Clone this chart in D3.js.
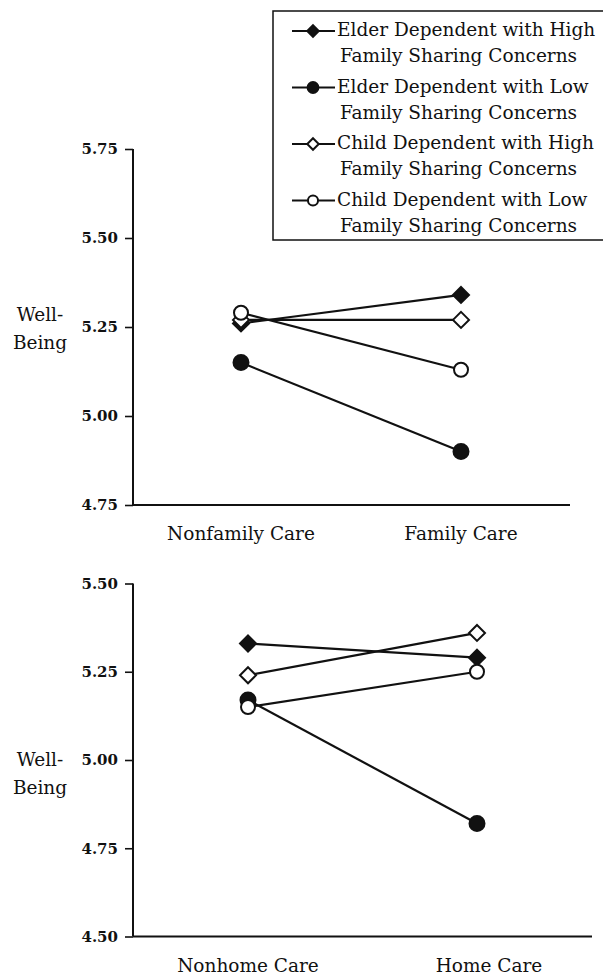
<!DOCTYPE html>
<html>
<head>
<meta charset="utf-8">
<script src="https://cdn.jsdelivr.net/npm/d3@7"></script>
<style>
  html, body { margin: 0; padding: 0; background: #fff; }
  svg { display: block; }
  text { font-family: "DejaVu Serif", "Liberation Serif", serif; fill: #111; }
</style>
</head>
<body>
<svg id="chart" width="603" height="978"></svg>
<script>
// Series labels (legend) and marker kinds
const seriesNames = [
  ["Elder Dependent with High", "Family Sharing Concerns"],
  ["Elder Dependent with Low", "Family Sharing Concerns"],
  ["Child Dependent with High", "Family Sharing Concerns"],
  ["Child Dependent with Low", "Family Sharing Concerns"]
];
const seriesMarkers = ["diamondFilled", "circleFilled", "diamondOpen", "circleOpen"];

// Panel 1: family vs nonfamily care
const careCategoriesA = ["Nonfamily Care", "Family Care"];
const elderHighA = [5.26, 5.34];
const elderLowA  = [5.15, 4.90];
const childHighA = [5.27, 5.27];
const childLowA  = [5.29, 5.13];
const ticksA = [4.75, 5.00, 5.25, 5.50, 5.75];

// Panel 2: home vs nonhome care
const careCategoriesB = ["Nonhome Care", "Home Care"];
const elderHighB = [5.33, 5.29];
const elderLowB  = [5.17, 4.82];
const childHighB = [5.24, 5.36];
const childLowB  = [5.15, 5.25];
const ticksB = [4.50, 4.75, 5.00, 5.25, 5.50];

const svg = d3.select("#chart");
const labelFont = "18.5px";

function drawMarker(g, kind, x, y, k = 1) {
  if (kind.startsWith("diamond")) {
    const s = 8 * k;
    g.append("path")
      .attr("d", `M${x},${y - s}L${x + s},${y}L${x},${y + s}L${x - s},${y}Z`)
      .attr("fill", kind === "diamondFilled" ? "#111" : "#fff")
      .attr("stroke", "#111").attr("stroke-width", 2);
  } else {
    g.append("circle")
      .attr("cx", x).attr("cy", y).attr("r", (kind === "circleFilled" ? 7.5 : 7) * k)
      .attr("fill", kind === "circleFilled" ? "#111" : "#fff")
      .attr("stroke", "#111").attr("stroke-width", 2);
  }
}

function drawPanel(cfg) {
  const g = svg.append("g");
  const y = d3.scaleLinear().domain(cfg.domain).range([cfg.bottom, cfg.top]);
  const x = d3.scaleOrdinal().domain(cfg.categories).range(cfg.xs);

  // y axis
  const yAxis = d3.axisLeft(y).tickValues(cfg.ticks)
    .tickFormat(d3.format(".2f")).tickSize(8).tickSizeOuter(0).tickPadding(7);
  const ya = g.append("g").attr("transform", `translate(${cfg.left},0)`).call(yAxis);
  ya.select(".domain").attr("stroke", "#111").attr("stroke-width", 2)
    .attr("d", `M0,${cfg.top}V${cfg.bottom}`);
  ya.selectAll(".tick line").attr("stroke", "#111").attr("stroke-width", 1.6);
  ya.selectAll(".tick text")
    .style("font-family", "'DejaVu Serif', serif")
    .style("font-weight", "bold").style("font-size", "15px").attr("fill", "#111");

  // x baseline
  g.append("line")
    .attr("x1", cfg.left).attr("x2", cfg.right)
    .attr("y1", cfg.bottom).attr("y2", cfg.bottom)
    .attr("stroke", "#111").attr("stroke-width", 2);

  // category labels
  g.selectAll(".cat").data(cfg.categories).enter().append("text")
    .attr("x", (d, i) => x(d) + cfg.labelShift[i])
    .attr("y", cfg.bottom + 35)
    .attr("text-anchor", "middle")
    .style("font-size", labelFont)
    .text(d => d);

  // y title
  const t = g.append("text").attr("text-anchor", "middle").style("font-size", labelFont);
  t.append("tspan").attr("x", 40).attr("y", cfg.titleY).text("Well-");
  t.append("tspan").attr("x", 40).attr("y", cfg.titleY + 28).text("Being");

  // lines and markers
  const line = d3.line().x(d => x(d.c)).y(d => y(d.v));
  cfg.series.forEach(vals => {
    const pts = vals.map((v, j) => ({ c: cfg.categories[j], v }));
    g.append("path").datum(pts).attr("d", line)
      .attr("fill", "none").attr("stroke", "#111").attr("stroke-width", 2.2);
  });
  cfg.series.forEach((vals, i) => {
    vals.forEach((v, j) => drawMarker(g, seriesMarkers[i], x(cfg.categories[j]), y(v)));
  });
}

drawPanel({
  categories: careCategoriesA, domain: [4.75, 5.75], ticks: ticksA,
  series: [elderHighA, elderLowA, childHighA, childLowA],
  left: 133, right: 570, top: 149, bottom: 505, xs: [241, 461], labelShift: [0, 0],
  titleY: 321
});

drawPanel({
  categories: careCategoriesB, domain: [4.50, 5.50], ticks: ticksB,
  series: [elderHighB, elderLowB, childHighB, childLowB],
  left: 133, right: 592, top: 583.5, bottom: 936.5, xs: [248, 477], labelShift: [0, 12],
  titleY: 766
});

// Legend
const lg = svg.append("g");
lg.append("rect").attr("x", 273).attr("y", 11).attr("width", 340).attr("height", 229)
  .attr("fill", "#fff").attr("stroke", "#111").attr("stroke-width", 1.5);
seriesNames.forEach((lines, i) => {
  const cy = 31 + i * 56.5;
  lg.append("line").attr("x1", 292).attr("x2", 335).attr("y1", cy).attr("y2", cy)
    .attr("stroke", "#111").attr("stroke-width", 2);
  drawMarker(lg, seriesMarkers[i], 313, cy, 0.72);
  const tx = lg.append("text").style("font-size", labelFont);
  tx.append("tspan").attr("x", 337).attr("y", cy + 5).text(lines[0]);
  tx.append("tspan").attr("x", 340).attr("y", cy + 31).text(lines[1]);
});
</script>
</body>
</html>
